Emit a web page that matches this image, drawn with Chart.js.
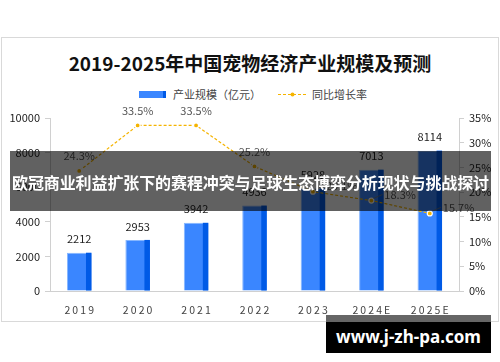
<!DOCTYPE html>
<html lang="zh-CN">
<head>
    <meta charset="UTF-8">
    <title>2019-2025年中国宠物经济产业规模及预测</title>
    <script src="https://cdn.jsdelivr.net/npm/chart.js"></script>
    <style>
        html, body {
            margin: 0;
            padding: 0;
            background: #fff;
            font-family: 'Noto Sans CJK SC', 'Noto Sans', sans-serif;
        }
        #page {
            position: relative;
            width: 500px;
            height: 362px;
            overflow: hidden;
        }
        .frame {
            position: absolute;
            left: 1px;
            top: 37px;
            width: 496px;
            height: 283px;
            border: 1px solid #d9d9d9;
        }
        .title {
            position: absolute;
            left: 0;
            top: 50px;
            width: 500px;
            text-align: center;
            font-size: 19px;
            font-weight: 700;
            line-height: 26px;
            color: #111;
        }
        .legend {
            position: absolute;
            top: 86px;
            left: 0;
            width: 500px;
            height: 16px;
            font-size: 11px;
            line-height: 16px;
            color: #444;
        }
        .legend .item { position: absolute; top: 0; white-space: nowrap; }
        .swatch-bar {
            position: absolute;
            top: 5px;
            width: 27px;
            height: 7px;
            background: linear-gradient(to right, #3a86ff 0, #3a86ff 24px, #005ae6 24px);
        }
        canvas { position: absolute; left: 0; top: 0; }
        .banner {
            position: absolute;
            left: 10px;
            top: 151px;
            width: 481px;
            height: 60px;
            background: rgba(0, 0, 0, 0.62);
            color: #fff;
            font-size: 16px;
            font-weight: 700;
            line-height: 62px;
            text-align: center;
            white-space: nowrap;
            letter-spacing: -0.1px;
        }
        .wm-strip {
            position: absolute;
            left: 326px;
            top: 315px;
            width: 165px;
            height: 7px;
            background: #666;
        }
        .wm {
            position: absolute;
            left: 326px;
            top: 322px;
            width: 165px;
            height: 31px;
            background: #000;
            color: #fff;
            font-family: 'Noto Sans', sans-serif;
            font-size: 17px;
            font-weight: 700;
            line-height: 30px;
            text-align: center;
        }
    </style>
</head>
<body>
<div id="page">
    <div class="frame"></div>
    <div class="title">2019-2025年中国宠物经济产业规模及预测</div>
    <div class="legend">
        <div class="item" style="left:139px;"><span class="swatch-bar"></span><span style="margin-left:34px;">产业规模（亿元）</span></div>
        <div class="item" style="left:278px;">
            <svg width="29" height="16" style="position:absolute;top:0;left:0;">
                <line x1="0" y1="8.5" x2="29" y2="8.5" stroke="#f5b400" stroke-width="1.2" stroke-dasharray="3,2"/>
                <circle cx="14.5" cy="8.5" r="2" fill="#f5b400"/>
            </svg>
            <span style="margin-left:34px;">同比增长率</span>
        </div>
    </div>
    <canvas id="chart" width="500" height="362"></canvas>
    <div class="banner">欧冠商业利益扩张下的赛程冲突与足球生态博弈分析现状与挑战探讨</div>
    <div class="wm-strip"></div>
    <div class="wm">www.j-zh-pa.com</div>
</div>

<script>
    // data
    const years = ['2019', '2020', '2021', '2022', '2023', '2024E', '2025E'];
    const scaleValues = [2212, 2953, 3942, 4936, 5928, 7013, 8114];   // 亿元
    const growthRates = [24.3, 33.5, 33.5, 25.2, 20.1, 18.3, 15.7];    // %

    const barLight = '#3a86ff';
    const barDark = '#005ae6';
    const lineGold = '#f5b400';
    const axisGrey = '#d0d0d0';

    Chart.defaults.font.family = "'Noto Sans CJK SC', 'Noto Sans', sans-serif";
    Chart.defaults.font.size = 11;
    Chart.defaults.color = '#333';

    // darker right edge on bars + value labels
    const decorations = {
        id: 'decorations',
        afterDatasetDraw(chart, args) {
            if (args.index !== 0) return;
            const ctx = chart.ctx;
            ctx.save();
            ctx.fillStyle = barDark;
            args.meta.data.forEach(el => {
                const p = el.getProps(['x', 'y', 'base', 'width'], true);
                ctx.fillRect(p.x + p.width / 2 - 5.5, p.y, 5.5, p.base - p.y);
            });
            ctx.restore();
        },
        afterDatasetsDraw(chart) {
            const ctx = chart.ctx;
            ctx.save();
            ctx.font = "11px 'Noto Sans CJK SC', 'Noto Sans', sans-serif";
            ctx.textBaseline = 'middle';

            // bar values
            ctx.fillStyle = '#222';
            ctx.textAlign = 'center';
            chart.getDatasetMeta(0).data.forEach((el, i) => {
                ctx.fillText(String(scaleValues[i]), el.x, el.y - 13.5);
            });

            // growth labels
            ctx.fillStyle = '#555';
            chart.getDatasetMeta(1).data.forEach((pt, i) => {
                const txt = growthRates[i].toFixed(1) + '%';
                if (i < 4) {
                    ctx.textAlign = 'center';
                    ctx.fillText(txt, pt.x, pt.y - 15);
                } else {
                    const lx = pt.x + 13, ly = pt.y - 6;
                    ctx.strokeStyle = '#777';
                    ctx.lineWidth = 0.8;
                    ctx.beginPath();
                    ctx.moveTo(pt.x + 2, pt.y - 2);
                    ctx.lineTo(lx - 2, ly);
                    ctx.stroke();
                    ctx.textAlign = 'left';
                    ctx.fillText(txt, lx, ly);
                }
            });
            ctx.restore();
        }
    };

    new Chart(document.getElementById('chart'), {
        type: 'bar',
        data: {
            labels: years,
            datasets: [{
                type: 'bar',
                label: '产业规模（亿元）',
                data: scaleValues,
                yAxisID: 'y',
                backgroundColor: barLight,
                borderColor: '#86b6ff',
                borderWidth: { top: 1, left: 1, right: 0, bottom: 0 },
                borderSkipped: false,
                categoryPercentage: 1,
                barPercentage: 0.42,
                order: 1
            }, {
                type: 'line',
                label: '同比增长率',
                data: growthRates,
                yAxisID: 'y1',
                borderColor: lineGold,
                borderWidth: 1.2,
                borderDash: [3, 2],
                pointRadius: 2.5,
                pointBackgroundColor: lineGold,
                pointBorderColor: '#fff',
                pointBorderWidth: 1.2,
                tension: 0,
                fill: false,
                order: 0
            }]
        },
        options: {
            responsive: false,
            animation: false,
            layout: { padding: { top: 118, left: 0, right: 0, bottom: 0 } },
            plugins: {
                legend: { display: false },
                title: { display: false },
                tooltip: { enabled: false }
            },
            scales: {
                x: {
                    grid: { display: false },
                    border: { display: true, color: axisGrey },
                    ticks: {
                        padding: 5,
                        color: '#444',
                        font: { size: 10.5 },
                        callback(v) { return this.getLabelForValue(v).split('').join('\u2009'); }
                    },
                    afterFit(scale) { scale.height = 71; }
                },
                y: {
                    position: 'left',
                    min: 0,
                    max: 10000,
                    ticks: { stepSize: 2000, padding: 5, color: '#222', callback: v => String(v) },
                    grid: { drawOnChartArea: false, drawTicks: true, tickLength: 5, color: axisGrey },
                    border: { display: true, color: axisGrey },
                    afterFit(scale) { scale.width = 50; }
                },
                y1: {
                    position: 'right',
                    min: 0,
                    max: 35,
                    ticks: { stepSize: 5, padding: 5, color: '#222', callback: v => v + '%' },
                    grid: { drawOnChartArea: false, drawTicks: true, tickLength: 5, color: axisGrey },
                    border: { display: true, color: axisGrey },
                    afterFit(scale) { scale.width = 41; }
                }
            }
        },
        plugins: [decorations]
    });
</script>
</body>
</html>
